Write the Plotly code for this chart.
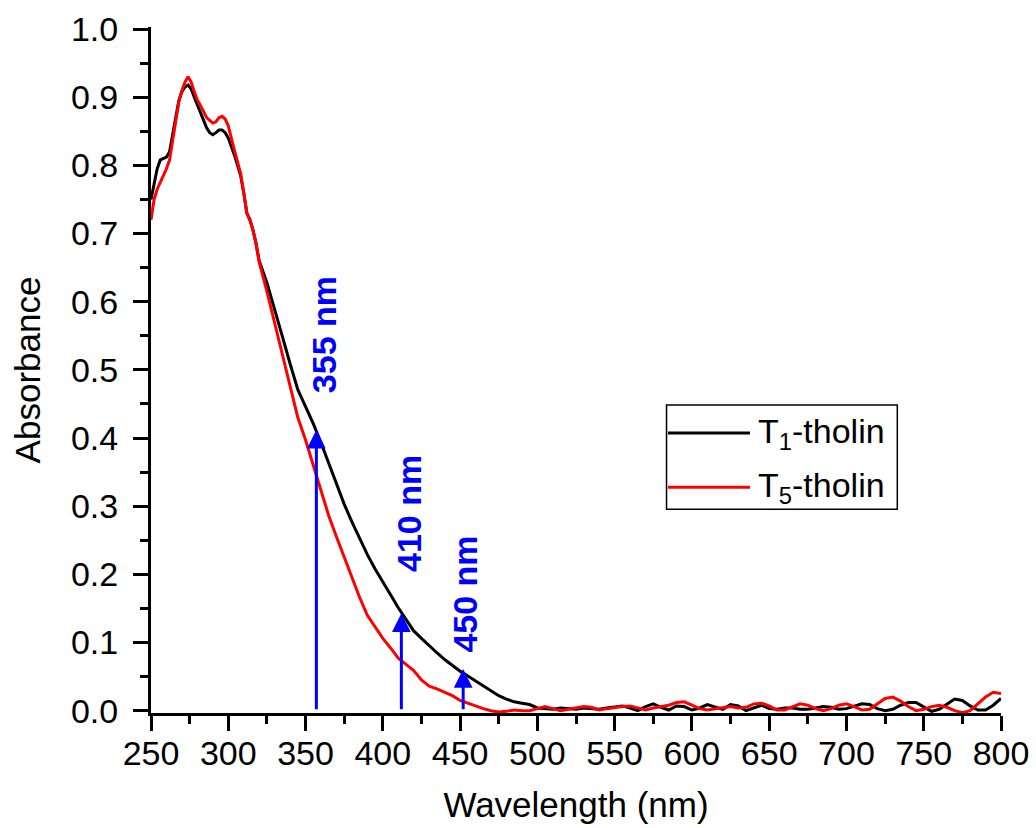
import plotly.graph_objects as go

# ---------------- data ----------------
wl_peak = [250, 252, 254, 256, 258, 260, 262, 264, 266, 268, 270, 272, 274, 276, 278,
           280, 282, 284, 286, 288, 290, 292, 294, 296, 298, 300, 302, 304, 306, 308,
           310, 312, 314, 316, 318]
t1_peak = [0.750, 0.775, 0.795, 0.808, 0.810, 0.812, 0.820, 0.845, 0.870, 0.895, 0.908,
           0.915, 0.918, 0.912, 0.900, 0.888, 0.878, 0.865, 0.855, 0.848, 0.845, 0.848,
           0.852, 0.852, 0.848, 0.840, 0.828, 0.815, 0.800, 0.785, 0.760, 0.730, 0.720,
           0.705, 0.685]
t5_peak = [0.720, 0.750, 0.765, 0.775, 0.785, 0.795, 0.808, 0.835, 0.862, 0.893, 0.910,
           0.922, 0.930, 0.922, 0.908, 0.896, 0.888, 0.878, 0.870, 0.866, 0.862, 0.864,
           0.870, 0.872, 0.868, 0.858, 0.838, 0.822, 0.805, 0.788, 0.760, 0.730, 0.720,
           0.705, 0.685]

wl_main = list(range(320, 805, 5))
t1_main = [0.660, 0.628, 0.590, 0.549, 0.509, 0.471, 0.446, 0.421, 0.393, 0.363,
           0.333, 0.303, 0.277, 0.252, 0.229, 0.208, 0.188, 0.170, 0.151, 0.133,
           0.117, 0.106, 0.095, 0.085, 0.075, 0.066, 0.058, 0.051, 0.044, 0.037,
           0.030, 0.022, 0.017, 0.013, 0.011, 0.009, 0.004, 0.003, 0.002, 0.004,
           0.003, 0.002, 0.004, 0.003, 0.002, 0.004, 0.006, 0.007, 0.004, 0.000,
           0.006, 0.010, 0.005, 0.001, 0.007, 0.006, 0.001, 0.004, 0.009, 0.005,
           0.002, 0.009, 0.007, 0.000, 0.004, 0.008, 0.003, 0.002, 0.004, 0.004,
           0.002, 0.002, 0.004, 0.006, 0.005, 0.002, 0.003, 0.007, 0.010, 0.009,
           0.003, 0.000, 0.002, 0.008, 0.012, 0.012, 0.005, -0.001, 0.002, 0.010,
           0.017, 0.015, 0.007, 0.001, 0.001, 0.008, 0.018]
t5_main = [0.658, 0.615, 0.569, 0.525, 0.477, 0.430, 0.397, 0.360, 0.322, 0.286,
           0.255, 0.225, 0.195, 0.166, 0.140, 0.123, 0.106, 0.092, 0.077, 0.068,
           0.059, 0.045, 0.036, 0.032, 0.027, 0.022, 0.015, 0.011, 0.006, 0.003,
           0.000, -0.002, -0.001, 0.001, 0.000, 0.000, 0.003, 0.006, 0.003, 0.000,
           0.002, 0.004, 0.006, 0.005, 0.001, 0.003, 0.005, 0.006, 0.007, 0.004,
           0.001, 0.004, 0.006, 0.008, 0.012, 0.013, 0.008, 0.003, 0.001, 0.003,
           0.005, 0.006, 0.004, 0.005, 0.010, 0.011, 0.007, 0.001, 0.001, 0.005,
           0.010, 0.008, 0.003, 0.000, 0.003, 0.008, 0.010, 0.006, 0.001, 0.002,
           0.010, 0.018, 0.020, 0.014, 0.006, 0.000, 0.002, 0.006, 0.008, 0.005,
           0.000, -0.003, 0.000, 0.010, 0.020, 0.027, 0.025]

wavelength = wl_peak + wl_main
t1_tholin = t1_peak + t1_main
t5_tholin = t5_peak + t5_main

series_names = ["T<sub>1</sub>-tholin", "T<sub>5</sub>-tholin"]

arrow_wl = [357, 412, 452]
arrow_tip = [0.412, 0.143, 0.061]
arrow_labels = ["355 nm", "410 nm", "450 nm"]
label_wl = [362, 416.5, 453.5]
label_abs = [0.551, 0.289, 0.171]

x_ticks = list(range(250, 801, 50))
y_ticks = [round(0.1 * i, 1) for i in range(11)]
y_ticktext = [f"{v:.1f}" for v in y_ticks]

# ---------------- figure ----------------
FONT = "Liberation Sans, Arial, sans-serif"
fig = go.Figure()
fig.add_trace(go.Scatter(x=wavelength, y=t1_tholin, mode="lines", name=series_names[0],
                         line=dict(color="#000000", width=3), showlegend=False))
fig.add_trace(go.Scatter(x=wavelength, y=t5_tholin, mode="lines", name=series_names[1],
                         line=dict(color="#ff0000", width=3), showlegend=False))

# blue arrows
for wl, tip in zip(arrow_wl, arrow_tip):
    fig.add_annotation(x=wl, y=tip, ax=wl, ay=0, xref="x", yref="y", axref="x", ayref="y",
                       text="", showarrow=True, arrowhead=2, arrowsize=1.25,
                       arrowwidth=3, arrowcolor="#0000ff", standoff=0)
for wl, ab, txt in zip(label_wl, label_abs, arrow_labels):
    fig.add_annotation(x=wl, y=ab, xref="x", yref="y", text=f"<b>{txt}</b>",
                       showarrow=False, textangle=-90, xanchor="center", yanchor="middle",
                       font=dict(family=FONT, size=34, color="#0000ff"))

# manual legend (Origin-style long line samples)
leg_x0, leg_x1, leg_y0, leg_y1 = 0.6065, 0.878, 0.297, 0.449
fig.add_shape(type="rect", xref="paper", yref="paper", x0=leg_x0, x1=leg_x1, y0=leg_y0, y1=leg_y1,
              line=dict(color="#000000", width=1.5), fillcolor="white", layer="below")
leg_rows = [0.408, 0.329]
leg_colors = ["#000000", "#ff0000"]
for yy, col, nm in zip(leg_rows, leg_colors, series_names):
    fig.add_shape(type="line", xref="paper", yref="paper", x0=0.6082, x1=0.7047, y0=yy, y1=yy,
                  line=dict(color=col, width=3))
    fig.add_annotation(x=0.712, y=yy, xref="paper", yref="paper", text=nm, showarrow=False,
                       xanchor="left", yanchor="middle",
                       font=dict(family=FONT, size=34, color="#000000"))

axis_common = dict(showline=True, linecolor="#000000", linewidth=3, showgrid=False,
                   zeroline=False, tickcolor="#000000", tickwidth=3, ticklen=15)

fig.update_layout(
    width=1036, height=828,
    paper_bgcolor="white", plot_bgcolor="white",
    margin=dict(l=151, r=35, t=27, b=115, autoexpand=False),
    font=dict(family=FONT, size=34, color="#000000"),
    xaxis=dict(range=[250, 800], tickvals=x_ticks, ticks="outside",
               minor=dict(dtick=25, tick0=250, ticks="outside", ticklen=8, tickwidth=3,
                          tickcolor="#000000"),
               tickfont=dict(size=34), ticklabelstandoff=-7,
               title=dict(text="Wavelength (nm)", font=dict(size=35), standoff=22),
               **axis_common),
    yaxis=dict(range=[-0.0034, 1.003], tickvals=y_ticks, ticktext=y_ticktext, ticks="outside",
               minor=dict(dtick=0.05, tick0=0, ticks="outside", ticklen=8, tickwidth=3,
                          tickcolor="#000000"),
               tickfont=dict(size=34), ticklabelstandoff=8,
               title=dict(text="Absorbance", font=dict(size=35), standoff=20),
               **axis_common),
    xaxis2=dict(range=[250, 800], overlaying="x", side="top", anchor="y",
                tickvals=x_ticks, ticks="inside", showticklabels=False,
                minor=dict(dtick=25, tick0=250, ticks="inside", ticklen=8, tickwidth=3,
                           tickcolor="#000000"),
                **axis_common),
    yaxis2=dict(range=[-0.0034, 1.003], overlaying="y", side="right", anchor="x",
                tickvals=y_ticks, ticks="inside", showticklabels=False,
                minor=dict(dtick=0.05, tick0=0, ticks="inside", ticklen=8, tickwidth=3,
                           tickcolor="#000000"),
                **axis_common),
)

fig.write_html("out.html", config={"displayModeBar": False},
               post_script="document.body.style.margin='0';")
